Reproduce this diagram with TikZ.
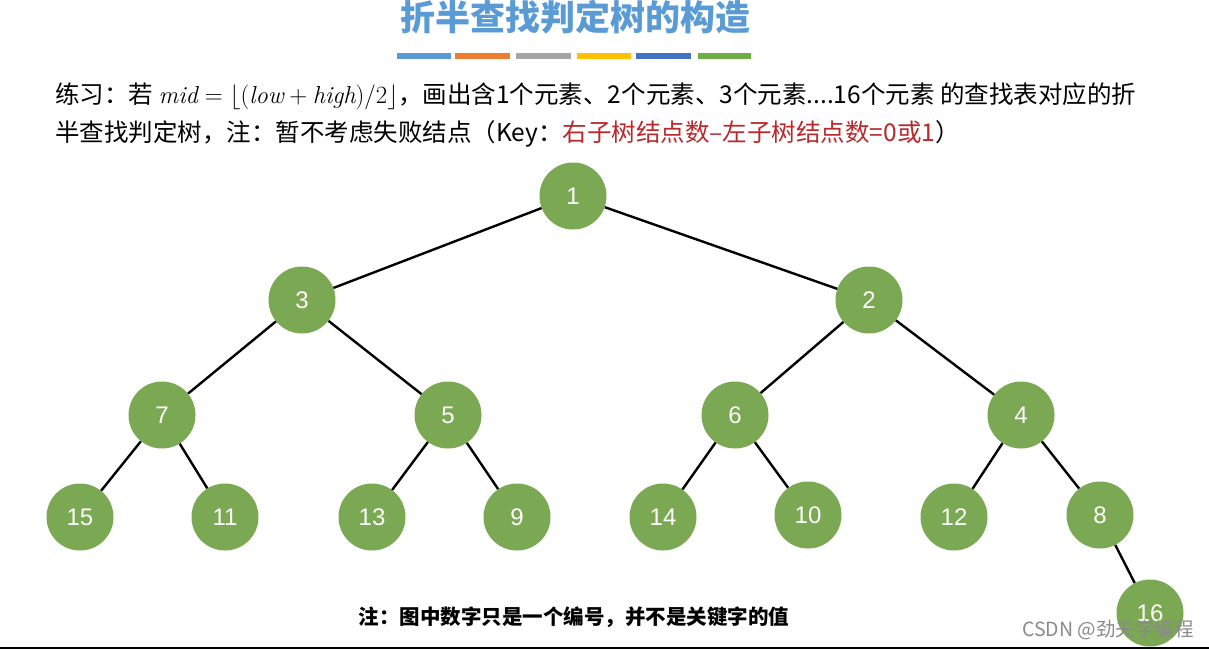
\documentclass[tikz,border=0pt]{standalone}
\usepackage{fontspec}
\newfontfamily\cjk{Noto Sans CJK SC}
\newfontfamily\arialf{Liberation Sans}
\definecolor{tblue}{HTML}{5B9BD5}
\definecolor{bar1}{HTML}{5B9BD5}
\definecolor{bar2}{HTML}{ED7D31}
\definecolor{bar3}{HTML}{A5A5A5}
\definecolor{bar4}{HTML}{FFC000}
\definecolor{bar5}{HTML}{4472C4}
\definecolor{bar6}{HTML}{70AD47}
\definecolor{ngreen}{HTML}{7BA853}
\definecolor{keyred}{HTML}{B8282C}
\definecolor{wmgray}{HTML}{8A8A8A}
\tikzset{
  gnode/.style={circle, fill=ngreen, minimum size=67pt, inner sep=0pt, text=white,
    font=\arialf\fontsize{24}{24}\selectfont},
  edge/.style={line width=2.4pt, black},
  txt/.style={inner sep=0pt, anchor=west, font=\cjk\fontsize{24.5}{28}\selectfont},
}
\begin{document}
\begin{tikzpicture}[x=1pt,y=-1pt]
\useasboundingbox (0,0) rectangle (1209,649);
\fill[white] (0,0) rectangle (1209,649);
% title
\node[inner sep=0pt, text=tblue, font=\cjk\bfseries\fontsize{35}{38}\selectfont] (title) at (575,17) {折半查找判定树的构造};
% bars
\fill[bar1] (397,53) rectangle (451,59);
\fill[bar2] (455,53) rectangle (510,59);
\fill[bar3] (516,53) rectangle (571,59);
\fill[bar4] (577,53) rectangle (631,59);
\fill[bar5] (636,53) rectangle (691,59);
\fill[bar6] (698,53) rectangle (751,59);
% text lines
\node[txt] (line1) at (55,96) {练习：若 $\mathit{mid}=\lfloor(\mathit{low}+\mathit{high})/2\rfloor$，画出含1个元素、2个元素、3个元素....16个元素 的查找表对应的折};
\node[txt] (line2) at (55,134) {半查找判定树，注：暂不考虑失败结点（Key：\textcolor{keyred}{右子树结点数–左子树结点数=0或1}）};
% tree nodes
\node[gnode] (n1) at (573,196) {1};
\node[gnode] (n3) at (302,300) {3};
\node[gnode] (n2) at (869,300) {2};
\node[gnode] (n7) at (162,415) {7};
\node[gnode] (n5) at (448,415) {5};
\node[gnode] (n6) at (735,415) {6};
\node[gnode] (n4) at (1021,415) {4};
\node[gnode] (n15) at (80,517) {15};
\node[gnode] (n11) at (225,517) {11};
\node[gnode] (n13) at (372,517) {13};
\node[gnode] (n9) at (517,517) {9};
\node[gnode] (n14) at (663,517) {14};
\node[gnode] (n10) at (808,515) {10};
\node[gnode] (n12) at (954,517) {12};
\node[gnode] (n8) at (1100,515) {8};
\node[gnode] (n16) at (1150,613) {16};
% edges
\draw[edge] (n1) -- (n3);
\draw[edge] (n1) -- (n2);
\draw[edge] (n3) -- (n7);
\draw[edge] (n3) -- (n5);
\draw[edge] (n2) -- (n6);
\draw[edge] (n2) -- (n4);
\draw[edge] (n7) -- (n15);
\draw[edge] (n7) -- (n11);
\draw[edge] (n5) -- (n13);
\draw[edge] (n5) -- (n9);
\draw[edge] (n6) -- (n14);
\draw[edge] (n6) -- (n10);
\draw[edge] (n4) -- (n12);
\draw[edge] (n4) -- (n8);
\draw[edge] (n8) -- (n16);
% bottom note
\node[inner sep=0pt, font=\cjk\bfseries\fontsize{20.5}{24}\selectfont] (note) at (574,617) {注：图中数字只是一个编号，并不是关键字的值};
% bottom rule
\coordinate (bl) at (0,647.5);
\coordinate (br) at (1209,647.5);
\draw[line width=2pt, black] (bl) -- (br);
% watermark
\node[inner sep=0pt, anchor=west, text=wmgray, font=\cjk\fontsize{19.5}{21}\selectfont] (wm) at (1022,630) {CSDN @劲夫学编程};
\end{tikzpicture}
\end{document}
